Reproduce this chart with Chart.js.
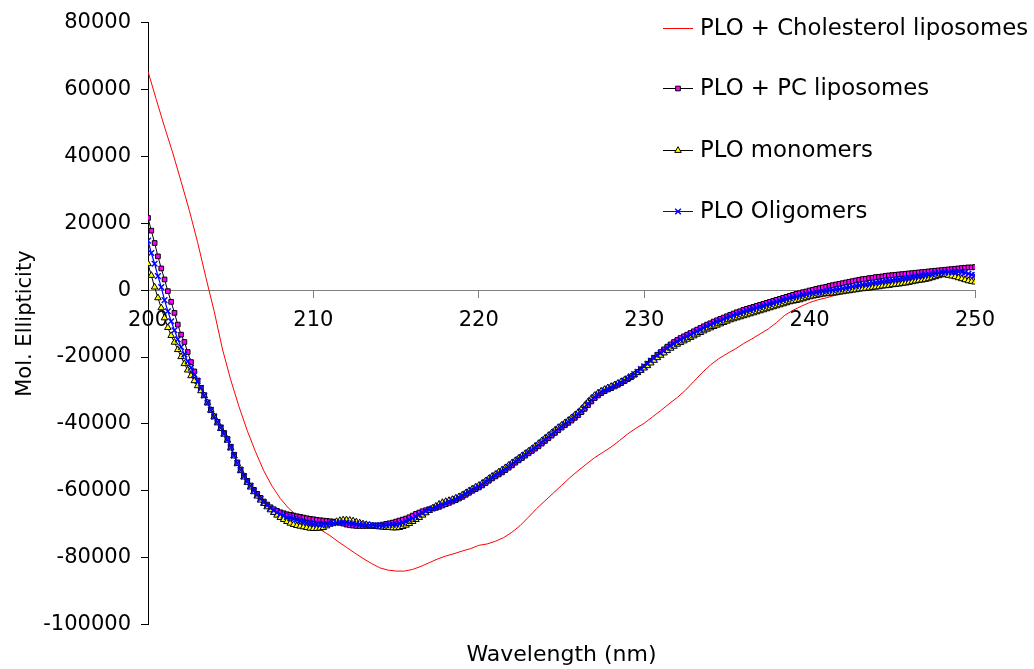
<!DOCTYPE html>
<html>
<head>
<meta charset="utf-8">
<script src="https://cdn.jsdelivr.net/npm/chart.js@4/dist/chart.umd.min.js"></script>
<style>
  html, body { margin: 0; padding: 0; background: #fff; }
  #wrap { width: 1034px; height: 669px; }
</style>
</head>
<body>
<div id="wrap"><canvas id="cdChart" width="1034" height="669"></canvas></div>
<script>
// wavelength grid of the three marked series (nm)
const wavelength = [
  200, 200.2, 200.4, 200.6, 200.8, 201, 201.2, 201.4, 201.6, 201.8,
  202, 202.2, 202.4, 202.6, 202.8, 203, 203.2, 203.4, 203.6, 203.8,
  204, 204.2, 204.4, 204.6, 204.8, 205, 205.2, 205.4, 205.6, 205.8,
  206, 206.2, 206.4, 206.6, 206.8, 207, 207.2, 207.4, 207.6, 207.8,
  208, 208.2, 208.4, 208.6, 208.8, 209, 209.2, 209.4, 209.6, 209.8,
  210, 210.2, 210.4, 210.6, 210.8, 211, 211.2, 211.4, 211.6, 211.8,
  212, 212.2, 212.4, 212.6, 212.8, 213, 213.2, 213.4, 213.6, 213.8,
  214, 214.2, 214.4, 214.6, 214.8, 215, 215.2, 215.4, 215.6, 215.8,
  216, 216.2, 216.4, 216.6, 216.8, 217, 217.2, 217.4, 217.6, 217.8,
  218, 218.2, 218.4, 218.6, 218.8, 219, 219.2, 219.4, 219.6, 219.8,
  220, 220.2, 220.4, 220.6, 220.8, 221, 221.2, 221.4, 221.6, 221.8,
  222, 222.2, 222.4, 222.6, 222.8, 223, 223.2, 223.4, 223.6, 223.8,
  224, 224.2, 224.4, 224.6, 224.8, 225, 225.2, 225.4, 225.6, 225.8,
  226, 226.2, 226.4, 226.6, 226.8, 227, 227.2, 227.4, 227.6, 227.8,
  228, 228.2, 228.4, 228.6, 228.8, 229, 229.2, 229.4, 229.6, 229.8,
  230, 230.2, 230.4, 230.6, 230.8, 231, 231.2, 231.4, 231.6, 231.8,
  232, 232.2, 232.4, 232.6, 232.8, 233, 233.2, 233.4, 233.6, 233.8,
  234, 234.2, 234.4, 234.6, 234.8, 235, 235.2, 235.4, 235.6, 235.8,
  236, 236.2, 236.4, 236.6, 236.8, 237, 237.2, 237.4, 237.6, 237.8,
  238, 238.2, 238.4, 238.6, 238.8, 239, 239.2, 239.4, 239.6, 239.8,
  240, 240.2, 240.4, 240.6, 240.8, 241, 241.2, 241.4, 241.6, 241.8,
  242, 242.2, 242.4, 242.6, 242.8, 243, 243.2, 243.4, 243.6, 243.8,
  244, 244.2, 244.4, 244.6, 244.8, 245, 245.2, 245.4, 245.6, 245.8,
  246, 246.2, 246.4, 246.6, 246.8, 247, 247.2, 247.4, 247.6, 247.8,
  248, 248.2, 248.4, 248.6, 248.8, 249, 249.2, 249.4, 249.6, 249.8,
  250
];

const pcLiposomes = [
  21600, 17800, 14100, 10100, 6500, 3200, -300, -3500, -6800, -10300,
  -13300, -15500, -18500, -21500, -24300, -27000, -29200, -31400, -33600, -35800,
  -37700, -39400, -41000, -42700, -44500, -46800, -49200, -51500, -53600, -55500,
  -57000, -58400, -59700, -60900, -62100, -63200, -64100, -64900, -65500, -66000,
  -66400, -66700, -67000, -67200, -67400, -67600, -67800, -68000, -68200, -68400,
  -68500, -68700, -68800, -68900, -69000, -69100, -69200, -69300, -69500, -69800,
  -70100, -70300, -70400, -70500, -70500, -70500, -70500, -70500, -70500, -70400,
  -70300, -70100, -69900, -69700, -69500, -69200, -68900, -68600, -68300, -67900,
  -67400, -66900, -66500, -66100, -65800, -65500, -65300, -65100, -64800, -64400,
  -64000, -63600, -63200, -62800, -62300, -61800, -61200, -60600, -60000, -59500,
  -59000, -58400, -57700, -57000, -56300, -55700, -55100, -54500, -53800, -53100,
  -52400, -51600, -50900, -50200, -49500, -48800, -48100, -47400, -46700, -45900,
  -45100, -44300, -43500, -42700, -41900, -41100, -40400, -39700, -39000, -38200,
  -37400, -36500, -35500, -34400, -33300, -32300, -31500, -30800, -30200, -29700,
  -29300, -28800, -28300, -27800, -27200, -26600, -26000, -25300, -24500, -23700,
  -22900, -22000, -21100, -20200, -19300, -18500, -17700, -16900, -16200, -15500,
  -14900, -14300, -13800, -13300, -12800, -12300, -11800, -11300, -10800, -10300,
  -9900, -9400, -9000, -8600, -8200, -7800, -7400, -7000, -6600, -6300,
  -5900, -5600, -5300, -5000, -4700, -4400, -4100, -3800, -3500, -3200,
  -2900, -2600, -2300, -2000, -1700, -1400, -1100, -900, -600, -400,
  -100, 100, 400, 600, 800, 1000, 1300, 1500, 1700, 1900,
  2100, 2300, 2500, 2700, 2900, 3100, 3300, 3400, 3600, 3700,
  3900, 4000, 4100, 4300, 4400, 4500, 4600, 4700, 4800, 4900,
  5000, 5100, 5200, 5300, 5400, 5500, 5600, 5700, 5800, 5900,
  6000, 6100, 6200, 6300, 6400, 6500, 6600, 6700, 6800, 6800,
  6900
];

const monomers = [
  7900, 4400, 900, -2300, -5300, -8300, -11200, -13600, -15600, -17800,
  -19900, -22000, -23900, -25600, -27100, -28600, -30100, -31600, -33700, -35900,
  -37900, -39700, -41400, -43100, -44900, -47200, -49600, -51900, -54000, -55900,
  -57500, -58900, -60300, -61600, -62800, -63800, -64800, -65700, -66500, -67300,
  -68000, -68600, -69200, -69700, -70100, -70400, -70600, -70800, -71000, -71200,
  -71300, -71300, -71200, -71000, -70500, -70000, -69600, -69200, -68900, -68700,
  -68700, -68800, -69000, -69300, -69600, -69900, -70100, -70300, -70500, -70700,
  -70800, -70900, -71000, -71000, -71100, -71100, -71000, -70700, -70300, -69800,
  -69200, -68600, -68000, -67300, -66600, -65900, -65200, -64600, -64000, -63500,
  -63200, -62900, -62600, -62200, -61800, -61300, -60700, -60100, -59500, -58900,
  -58400, -57800, -57100, -56400, -55700, -55100, -54400, -53800, -53100, -52400,
  -51700, -51000, -50300, -49600, -48900, -48200, -47500, -46700, -45900, -45100,
  -44300, -43500, -42700, -41900, -41100, -40400, -39700, -39000, -38200, -37400,
  -36600, -35600, -34500, -33400, -32400, -31500, -30800, -30200, -29700, -29200,
  -28800, -28400, -27900, -27400, -26900, -26400, -25900, -25300, -24700, -24000,
  -23300, -22600, -21800, -21000, -20200, -19500, -18800, -18100, -17400, -16800,
  -16200, -15700, -15200, -14700, -14200, -13700, -13200, -12700, -12200, -11700,
  -11300, -10900, -10500, -10100, -9700, -9300, -8900, -8600, -8300, -8000,
  -7700, -7400, -7100, -6800, -6500, -6200, -5900, -5600, -5300, -5000,
  -4700, -4400, -4100, -3800, -3500, -3300, -3100, -2900, -2600, -2300,
  -2000, -1800, -1600, -1400, -1200, -1100, -1000, -900, -800, -600,
  -500, -300, -200, 0, 100, 300, 400, 500, 600, 800,
  900, 1000, 1200, 1300, 1400, 1600, 1700, 1800, 2000, 2100,
  2300, 2500, 2700, 2900, 3000, 3200, 3400, 3700, 4000, 4300,
  4600, 4600, 4400, 4200, 4000, 3700, 3400, 3100, 2800, 2600,
  2400
];

const oligomers = [
  14800, 11100, 7900, 4200, 900, -3000, -6300, -9300, -12000, -14700,
  -17000, -19200, -21300, -23200, -25200, -27200, -29300, -31500, -33600, -35800,
  -37800, -39500, -41200, -42900, -44700, -47000, -49400, -51700, -53800, -55700,
  -57200, -58600, -60000, -61200, -62400, -63500, -64400, -65200, -65900, -66500,
  -67000, -67400, -67800, -68100, -68400, -68700, -69000, -69200, -69500, -69700,
  -69800, -69900, -70000, -70000, -69900, -69800, -69700, -69600, -69500, -69500,
  -69600, -69700, -69800, -69900, -70000, -70100, -70200, -70300, -70300, -70400,
  -70400, -70400, -70300, -70200, -70100, -70000, -69800, -69500, -69100, -68700,
  -68200, -67700, -67100, -66600, -66100, -65700, -65300, -64900, -64500, -64100,
  -63700, -63300, -62900, -62500, -62000, -61500, -60900, -60300, -59700, -59200,
  -58700, -58100, -57400, -56700, -56000, -55400, -54800, -54200, -53500, -52800,
  -52100, -51300, -50600, -49900, -49200, -48500, -47800, -47100, -46300, -45500,
  -44700, -43900, -43100, -42300, -41500, -40800, -40100, -39400, -38600, -37800,
  -37000, -36100, -35000, -33900, -32900, -32000, -31200, -30500, -30000, -29500,
  -29100, -28600, -28100, -27600, -27000, -26400, -25800, -25100, -24400, -23600,
  -22800, -22000, -21100, -20300, -19500, -18800, -18100, -17300, -16600, -16000,
  -15400, -14800, -14300, -13800, -13300, -12800, -12300, -11800, -11300, -10800,
  -10400, -9900, -9500, -9100, -8700, -8300, -7900, -7500, -7200, -6900,
  -6500, -6200, -5900, -5600, -5300, -5000, -4700, -4400, -4100, -3800,
  -3500, -3200, -2900, -2700, -2400, -2100, -1900, -1700, -1400, -1200,
  -1000, -900, -700, -600, -400, -300, -100, 0, 200, 300,
  500, 700, 900, 1100, 1300, 1500, 1700, 1800, 2000, 2200,
  2300, 2500, 2600, 2800, 2900, 3000, 3200, 3300, 3500, 3600,
  3800, 3900, 4100, 4200, 4400, 4500, 4700, 4800, 5000, 5100,
  5200, 5300, 5400, 5500, 5500, 5500, 5400, 5200, 4900, 4600,
  4400
];

// cholesterol curve has no markers, read every 0.5 nm
const cholWavelength = [
  200, 200.5, 201, 201.5, 202, 202.5, 203, 203.5, 204, 204.5,
  205, 205.5, 206, 206.5, 207, 207.5, 208, 208.5, 209, 209.5,
  210, 210.5, 211, 211.5, 212, 212.5, 213, 213.5, 214, 214.5,
  215, 215.5, 216, 216.5, 217, 217.5, 218, 218.5, 219, 219.5,
  220, 220.5, 221, 221.5, 222, 222.5, 223, 223.5, 224, 224.5,
  225, 225.5, 226, 226.5, 227, 227.5, 228, 228.5, 229, 229.5,
  230, 230.5, 231, 231.5, 232, 232.5, 233, 233.5, 234, 234.5,
  235, 235.5, 236, 236.5, 237, 237.5, 238, 238.5, 239, 239.5,
  240, 240.5, 241, 241.5, 242, 242.5, 243, 243.5, 244, 244.5,
  245, 245.5, 246, 246.5, 247, 247.5, 248, 248.5, 249, 249.5,
  250
];
const cholesterol = [
  65400, 57000, 48800, 41000, 32500, 23800, 14300, 3800, -6300, -17600,
  -26800, -34800, -42000, -48300, -54000, -58600, -62300, -65200, -67400, -69200,
  -70500, -71800, -73400, -75200, -76900, -78600, -80200, -81700, -83000, -83700,
  -84000, -84000, -83500, -82600, -81500, -80400, -79500, -78800, -78000, -77300,
  -76300, -75900, -75100, -74000, -72400, -70400, -67900, -65300, -63000, -60700,
  -58400, -56100, -54000, -52000, -50100, -48500, -46900, -45000, -43000, -41300,
  -39800, -37900, -36000, -34000, -32100, -29900, -27300, -24700, -22400, -20500,
  -19000, -17600, -16000, -14600, -13100, -11600, -9700, -7500, -6000, -4800,
  -3700, -2900, -2300, -1600, -1000, -500, 0, 400, 800, 1200,
  1700, 2200, 2700, 3200, 3700, 4200, 4700, 4900, 4600, 4000,
  3500
];

const seriesNames = ['PLO + Cholesterol liposomes', 'PLO + PC liposomes', 'PLO monomers', 'PLO Oligomers'];
const xTickValues = [200, 210, 220, 230, 240, 250];
const yTickValues = [-100000, -80000, -60000, -40000, -20000, 0, 20000, 40000, 60000, 80000];

function toPoints(xs, ys) {
  return xs.map((x, i) => ({ x: x, y: ys[i] }));
}

// legend drawn in the upper right corner, over the plot like the original
const cornerLegend = {
  id: 'cornerLegend',
  afterDraw(chart) {
    const ctx = chart.ctx;
    const rowY = [28, 88, 150, 211];
    chart.data.datasets.forEach(function(ds, i) {
      const y = rowY[i];
      ctx.save();
      ctx.lineWidth = 1;
      ctx.strokeStyle = ds.borderColor;
      ctx.beginPath();
      ctx.moveTo(663, y + 0.5);
      ctx.lineTo(693, y + 0.5);
      ctx.stroke();
      const cx = 678, cy = y + 0.5, r = ds.pointRadius;
      if (r > 0) {
        ctx.fillStyle = ds.pointBackgroundColor;
        ctx.strokeStyle = ds.pointBorderColor;
        ctx.lineWidth = ds.pointBorderWidth;
        ctx.beginPath();
        if (ds.pointStyle === 'rect') {
          const s = r * Math.SQRT1_2;
          ctx.rect(cx - s, cy - s, 2 * s, 2 * s);
          ctx.fill(); ctx.stroke();
        } else if (ds.pointStyle === 'triangle') {
          ctx.moveTo(cx, cy - r);
          ctx.lineTo(cx + r * 0.866, cy + r * 0.5);
          ctx.lineTo(cx - r * 0.866, cy + r * 0.5);
          ctx.closePath();
          ctx.fill(); ctx.stroke();
        } else {
          const s = r * Math.SQRT1_2;
          ctx.moveTo(cx - s, cy - s); ctx.lineTo(cx + s, cy + s);
          ctx.moveTo(cx - s, cy + s); ctx.lineTo(cx + s, cy - s);
          ctx.stroke();
        }
      }
      ctx.fillStyle = '#000';
      ctx.font = '22.8px "DejaVu Sans"';
      ctx.textBaseline = 'middle';
      ctx.textAlign = 'left';
      ctx.fillText(ds.label, 700, y + 1);
      ctx.restore();
    });
  }
};

Chart.defaults.font.family = '"DejaVu Sans", sans-serif';
Chart.defaults.color = '#000';

const ctx = document.getElementById('cdChart').getContext('2d');
new Chart(ctx, {
  type: 'line',
  data: {
    datasets: [
      {
        label: seriesNames[0],
        data: toPoints(cholWavelength, cholesterol),
        borderColor: '#ff0000',
        borderWidth: 1,
        pointRadius: 0,
        order: 4
      },
      {
        label: seriesNames[1],
        data: toPoints(wavelength, pcLiposomes),
        borderColor: '#000000',
        borderWidth: 1,
        pointStyle: 'rect',
        pointRadius: 3.3,
        pointBackgroundColor: '#ff00ff',
        pointBorderColor: '#000000',
        pointBorderWidth: 1,
        order: 3
      },
      {
        label: seriesNames[2],
        data: toPoints(wavelength, monomers),
        borderColor: '#000000',
        borderWidth: 1,
        pointStyle: 'triangle',
        pointRadius: 3.8,
        pointBackgroundColor: '#ffff00',
        pointBorderColor: '#000000',
        pointBorderWidth: 1,
        order: 2
      },
      {
        label: seriesNames[3],
        data: toPoints(wavelength, oligomers),
        borderColor: '#0000ff',
        borderWidth: 1.2,
        pointStyle: 'crossRot',
        pointRadius: 4,
        pointBackgroundColor: '#0000ff',
        pointBorderColor: '#0000ff',
        pointBorderWidth: 1.4,
        order: 1
      }
    ]
  },
  options: {
    responsive: false,
    animation: false,
    events: [],
    layout: { padding: { top: 22, right: 59, bottom: 0, left: 0 } },
    plugins: {
      legend: { display: false },
      tooltip: { enabled: false }
    },
    scales: {
      x: {
        type: 'linear',
        min: 200,
        max: 250,
        position: { y: 0 },
        afterBuildTicks: function(scale) {
          scale.ticks = xTickValues.map(v => ({ value: v }));
        },
        ticks: { font: { size: 21 }, padding: 11, maxRotation: 0 },
        grid: { drawOnChartArea: false, tickLength: 7, color: '#808080' },
        border: { color: '#808080', width: 1 }
      },
      xTitle: {
        type: 'linear',
        axis: 'x',
        display: true,
        position: 'bottom',
        min: 200,
        max: 250,
        ticks: { display: false },
        grid: { display: false, drawTicks: false },
        border: { display: false },
        title: { display: true, text: 'Wavelength (nm)', font: { size: 22 }, padding: { top: 17, bottom: 1 } }
      },
      y: {
        min: -100000,
        max: 80000,
        afterBuildTicks: function(scale) {
          scale.ticks = yTickValues.map(v => ({ value: v }));
        },
        afterFit: function(scale) {
          scale.width = 148;
        },
        ticks: {
          font: { size: 21 },
          padding: 10,
          callback: function(v) { return String(v); }
        },
        grid: { drawOnChartArea: false, tickLength: 7, color: '#000' },
        border: { color: '#000', width: 1 },
        title: { display: true, text: 'Mol. Ellipticity', font: { size: 21 }, padding: { top: 13, bottom: 0 } }
      }
    }
  },
  plugins: [cornerLegend]
});
</script>
</body>
</html>
